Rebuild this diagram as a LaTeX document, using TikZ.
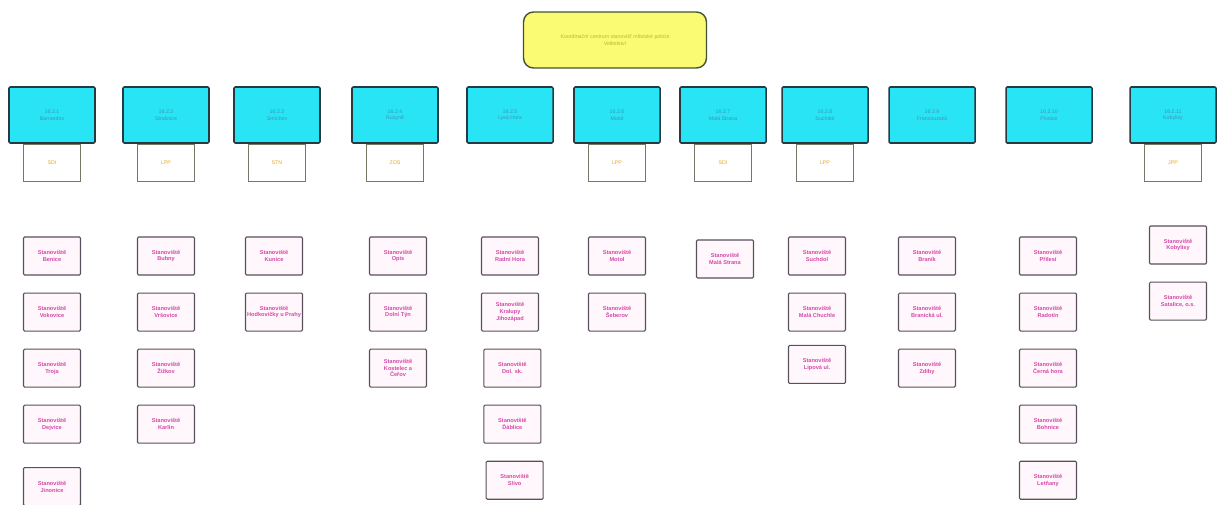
\documentclass[tikz,border=0pt]{standalone}
\usepackage{fontspec}
\setmainfont{Liberation Sans}
\usepackage{xcolor}
\usetikzlibrary{positioning}

\definecolor{headfill}{RGB}{250,250,115}
\definecolor{headline}{RGB}{70,82,55}
\definecolor{headtext}{RGB}{185,185,45}
\definecolor{secfill}{RGB}{40,228,244}
\definecolor{secline}{RGB}{38,58,68}
\definecolor{sectext}{RGB}{60,150,185}
\definecolor{tagline}{RGB}{120,118,100}
\definecolor{tagtext}{RGB}{228,168,40}
\definecolor{postfill}{RGB}{255,247,252}
\definecolor{postline}{RGB}{88,80,92}
\definecolor{posttext}{RGB}{212,72,168}

\begin{document}
\begin{tikzpicture}[
    x=0.03cm, y=0.03cm,
    every node/.style={align=center, inner sep=1pt},
    head/.style={rectangle, rounded corners=0.3cm, minimum width=5.49cm, minimum height=1.68cm, draw=headline, line width=1.2pt, fill=headfill, text=headtext, font=\fontsize{4.5}{5.5}\selectfont},
    section/.style={rectangle, rounded corners=1pt, minimum width=2.58cm, minimum height=1.68cm, draw=secline, line width=1.3pt, fill=secfill, text=sectext, font=\fontsize{4.5}{5.5}\selectfont},
    tagbox/.style={rectangle, minimum width=1.71cm, minimum height=1.11cm, draw=tagline, line width=0.6pt, fill=white, text=tagtext, font=\fontsize{4.5}{5.5}\selectfont},
    post/.style={rectangle, rounded corners=1pt, minimum width=1.71cm, minimum height=1.14cm, draw=postline, line width=0.9pt, fill=postfill, text=posttext, font=\fontsize{4.8}{5.8}\selectfont\bfseries}
]
\useasboundingbox (0,0) rectangle (1217,-504);

% Head
\node (head) [head] at (615,-40) {Koordinační centrum stanovišť městské policie\\Velitelství};

% Sections
\node (sec1) [section] at (52,-115) {16.2.1\\Barrandov};
\node (sec2) [section] at (166,-115) {16.2.2\\Strašnice};
\node (sec3) [section] at (277,-115) {16.2.3\\Smíchov};
\node (sec4) [section] at (395,-115) {16.2.4\\Ruzyně};
\node (sec5) [section] at (510,-115) {16.2.5\\Lysá Hora};
\node (sec6) [section] at (617,-115) {16.2.6\\Motol};
\node (sec7) [section] at (723,-115) {16.2.7\\Malá Strana};
\node (sec8) [section] at (825,-115) {16.2.8\\Suchdol};
\node (sec9) [section] at (932,-115) {16.2.9\\Francouzská};
\node (sec10) [section] at (1049,-115) {16.2.10\\Písnice};
\node (sec11) [section] at (1173,-115) {16.2.11\\Kobylisy};

% Tags under sections
\node (tag1) [tagbox, below=0pt of sec1] {SDI};
\node (tag2) [tagbox, below=0pt of sec2] {LPP};
\node (tag3) [tagbox, below=0pt of sec3] {STN};
\node (tag4) [tagbox, below=0pt of sec4] {ZOS};
\node (tag6) [tagbox, below=0pt of sec6] {LPP};
\node (tag7) [tagbox, below=0pt of sec7] {SDI};
\node (tag8) [tagbox, below=0pt of sec8] {LPP};
\node (tag11) [tagbox, below=0pt of sec11] {JPP};

% Column 1
\node (p1a) [post] at (52,-256) {Stanoviště\\Benice};
\node (p1b) [post, below=0.51cm of p1a] {Stanoviště\\Vokovice};
\node (p1c) [post, below=0.51cm of p1b] {Stanoviště\\Troja};
\node (p1d) [post, below=0.51cm of p1c] {Stanoviště\\Dejvice};
\node (p1e) [post, below=0.7cm of p1d] {Stanoviště\\Jinonice};

% Column 2
\node (p2a) [post] at (166,-256) {Stanoviště\\Bubny};
\node (p2b) [post, below=0.51cm of p2a] {Stanoviště\\Vršovice};
\node (p2c) [post, below=0.51cm of p2b] {Stanoviště\\Žižkov};
\node (p2d) [post, below=0.51cm of p2c] {Stanoviště\\Karlín};

% Column 3
\node (p3a) [post] at (274,-256) {Stanoviště\\Kunice};
\node (p3b) [post, below=0.51cm of p3a] {Stanoviště\\Hodkovičky u Prahy};

% Column 4
\node (p4a) [post] at (398,-256) {Stanoviště\\Opis};
\node (p4b) [post, below=0.51cm of p4a] {Stanoviště\\Dolní Týn};
\node (p4c) [post, below=0.51cm of p4b] {Stanoviště\\Kostelec a\\Čeřov};

% Column 5
\node (p5a) [post] at (510,-256) {Stanoviště\\Radní Hora};
\node (p5b) [post, below=0.51cm of p5a] {Stanoviště\\Kralupy\\Jihozápad};
\node (p5c) [post, below=0.51cm of p5b, xshift=2pt] {Stanoviště\\Dol. sk.};
\node (p5d) [post, below=0.51cm of p5c] {Stanoviště\\Ďáblice};
\node (p5e) [post, below=0.51cm of p5d, xshift=2pt] {Stanoviště\\Slivo};

% Column 6
\node (p6a) [post] at (617,-256) {Stanoviště\\Motol};
\node (p6b) [post, below=0.51cm of p6a] {Stanoviště\\Šeberov};

% Column 7
\node (p7a) [post] at (725,-259) {Stanoviště\\Malá Strana};

% Column 8
\node (p8a) [post] at (817,-256) {Stanoviště\\Suchdol};
\node (p8b) [post, below=0.51cm of p8a] {Stanoviště\\Malá Chuchle};
\node (p8c) [post, below=0.4cm of p8b] {Stanoviště\\Lipová ul.};

% Column 9
\node (p9a) [post] at (927,-256) {Stanoviště\\Braník};
\node (p9b) [post, below=0.51cm of p9a] {Stanoviště\\Branická ul.};
\node (p9c) [post, below=0.51cm of p9b] {Stanoviště\\Zdiby};

% Column 10
\node (p10a) [post] at (1048,-256) {Stanoviště\\Přilesí};
\node (p10b) [post, below=0.51cm of p10a] {Stanoviště\\Radotín};
\node (p10c) [post, below=0.51cm of p10b] {Stanoviště\\Černá hora};
\node (p10d) [post, below=0.51cm of p10c] {Stanoviště\\Bohnice};
\node (p10e) [post, below=0.51cm of p10d] {Stanoviště\\Letňany};

% Column 11
\node (p11a) [post] at (1178,-245) {Stanoviště\\Kobylisy};
\node (p11b) [post, below=0.51cm of p11a] {Stanoviště\\Satalice, o.s.};

\end{tikzpicture}
\end{document}
